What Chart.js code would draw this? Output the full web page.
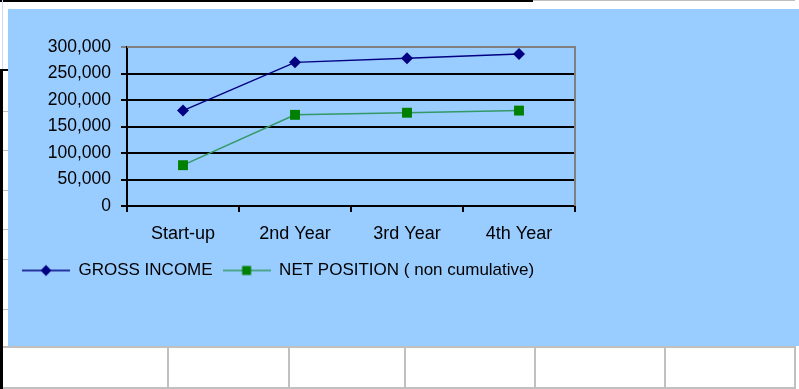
<!DOCTYPE html>
<html>
<head>
<meta charset="utf-8">
<script src="https://cdn.jsdelivr.net/npm/chart.js@4.4.1/dist/chart.umd.min.js"></script>
<style>
body { margin: 0; width: 799px; height: 389px; background: #fff; position: relative; overflow: hidden; }
.panel { position: absolute; left: 8px; top: 9px; width: 791px; height: 337px; background: #99ccff; }
#incomeChart { position: absolute; left: 0; top: 0; }
.ln { position: absolute; }
</style>
</head>
<body>
<!-- spreadsheet cell borders around the chart -->
<div class="ln" style="left:0;top:0;width:533px;height:2px;background:#000"></div>
<div class="ln" style="left:533px;top:0;width:262px;height:1px;background:#c0c0c0"></div>
<div class="ln" style="left:2px;top:0;width:1px;height:69px;background:#c8dcff"></div>
<div class="ln" style="left:0;top:69px;width:8px;height:2px;background:#000"></div>
<div class="ln" style="left:0;top:69px;width:3px;height:320px;background:#000"></div>
<div class="ln" style="left:3px;top:111px;width:5px;height:1px;background:#c0c0c0"></div>
<div class="ln" style="left:3px;top:150px;width:5px;height:1px;background:#c0c0c0"></div>
<div class="ln" style="left:3px;top:190px;width:5px;height:1px;background:#c0c0c0"></div>
<div class="ln" style="left:3px;top:229px;width:5px;height:1px;background:#c0c0c0"></div>
<div class="ln" style="left:3px;top:259px;width:5px;height:1px;background:#c0c0c0"></div>
<div class="ln" style="left:3px;top:309px;width:5px;height:1px;background:#c0c0c0"></div>
<div class="ln" style="left:3px;top:346px;width:793px;height:2px;background:#c0c0c0"></div>
<div class="ln" style="left:3px;top:387px;width:793px;height:2px;background:#c0c0c0"></div>
<div class="ln" style="left:167px;top:346px;width:2px;height:43px;background:#c0c0c0"></div>
<div class="ln" style="left:288px;top:346px;width:2px;height:43px;background:#c0c0c0"></div>
<div class="ln" style="left:404px;top:346px;width:2px;height:43px;background:#c0c0c0"></div>
<div class="ln" style="left:534px;top:346px;width:2px;height:43px;background:#c0c0c0"></div>
<div class="ln" style="left:664px;top:346px;width:2px;height:43px;background:#c0c0c0"></div>
<div class="ln" style="left:794px;top:346px;width:2px;height:43px;background:#c0c0c0"></div>

<div class="panel">
  <canvas id="incomeChart" width="791" height="337"></canvas>
</div>

<script>
// Datos del grafico
const categories = ['Start-up', '2nd Year', '3rd Year', '4th Year'];
const grossIncome = [180000, 271000, 279000, 287000];
const netPosition = [77000, 172000, 176000, 180000];
const seriesNames = ['GROSS INCOME', 'NET POSITION ( non cumulative)'];
const yMin = 0;
const yMax = 300000;
const yStep = 50000;

const fontFamily = "'Liberation Sans', Arial, sans-serif";
const grossColor = '#000080';
const netLineColor = '#339966';
const netMarkerColor = '#008000';

// Icono de leyenda: linea con marcador en el centro
function legendIcon(lineColor, markerColor, diamond) {
    const c = document.createElement('canvas');
    c.width = 48;
    c.height = 14;
    const g = c.getContext('2d');
    g.strokeStyle = lineColor;
    g.lineWidth = 1.5;
    g.beginPath();
    g.moveTo(0, 7);
    g.lineTo(48, 7);
    g.stroke();
    g.fillStyle = markerColor;
    g.beginPath();
    if (diamond) {
        g.moveTo(24, 1.5);
        g.lineTo(29.5, 7);
        g.lineTo(24, 12.5);
        g.lineTo(18.5, 7);
        g.closePath();
    } else {
        g.rect(19.5, 2.5, 9, 9);
    }
    g.fill();
    return c;
}

const grossIcon = legendIcon(grossColor, grossColor, true);
const netIcon = legendIcon(netLineColor, netMarkerColor, false);

// Borde gris del area de trazado (arriba y derecha)
const plotBorder = {
    id: 'plotBorder',
    beforeDatasetsDraw(chart) {
        const { ctx, chartArea } = chart;
        ctx.save();
        ctx.strokeStyle = '#808080';
        ctx.lineWidth = 2;
        ctx.beginPath();
        ctx.moveTo(chartArea.left, chartArea.top);
        ctx.lineTo(chartArea.right, chartArea.top);
        ctx.lineTo(chartArea.right, chartArea.bottom);
        ctx.stroke();
        ctx.restore();
    }
};

const ctx = document.getElementById('incomeChart').getContext('2d');
const incomeChart = new Chart(ctx, {
    type: 'line',
    data: {
        labels: categories,
        datasets: [{
            label: seriesNames[0],
            data: grossIncome,
            borderColor: grossColor,
            backgroundColor: grossColor,
            borderWidth: 1.5,
            pointStyle: 'rectRot',
            pointRadius: 6,
            pointBorderWidth: 0,
            pointBackgroundColor: grossColor,
            tension: 0,
            fill: false
        }, {
            label: seriesNames[1],
            data: netPosition,
            borderColor: netLineColor,
            backgroundColor: netMarkerColor,
            borderWidth: 1.5,
            pointStyle: 'rect',
            pointRadius: 7,
            pointBorderWidth: 0,
            pointBackgroundColor: netMarkerColor,
            tension: 0,
            fill: false
        }]
    },
    options: {
        responsive: false,
        animation: false,
        layout: {
            padding: { left: 4, right: 224, top: 38, bottom: 57 }
        },
        plugins: {
            legend: {
                position: 'bottom',
                align: 'start',
                labels: {
                    usePointStyle: true,
                    pointStyleWidth: 48,
                    padding: 10,
                    color: '#000',
                    font: { family: fontFamily, size: 17 },
                    generateLabels(chart) {
                        return chart.data.datasets.map((ds, i) => ({
                            text: ds.label,
                            pointStyle: i === 0 ? grossIcon : netIcon,
                            fillStyle: ds.backgroundColor,
                            strokeStyle: ds.borderColor,
                            lineWidth: 0,
                            hidden: false,
                            datasetIndex: i,
                            fontColor: '#000'
                        }));
                    }
                }
            },
            tooltip: { enabled: false }
        },
        scales: {
            x: {
                offset: true,
                afterFit(scale) { scale.height = 46; },
                grid: {
                    offset: true,
                    drawOnChartArea: false,
                    drawTicks: true,
                    tickLength: 6,
                    color: '#000',
                    lineWidth: 2
                },
                border: { display: true, color: '#000', width: 2 },
                ticks: {
                    color: '#000',
                    padding: 11,
                    maxRotation: 0,
                    font: { family: fontFamily, size: 18 }
                }
            },
            y: {
                min: yMin,
                max: yMax,
                afterFit(scale) { scale.width = 115; },
                grid: {
                    drawTicks: true,
                    tickLength: 6,
                    lineWidth: 2,
                    color: c => (c.tick && c.tick.value === yMax) ? '#808080' : '#000'
                },
                border: { display: true, color: '#000', width: 2 },
                ticks: {
                    stepSize: yStep,
                    color: '#000',
                    padding: 10,
                    font: { family: fontFamily, size: 17.5 },
                    callback: value => value.toLocaleString('en-US')
                }
            }
        }
    },
    plugins: [plotBorder]
});
</script>
</body>
</html>
